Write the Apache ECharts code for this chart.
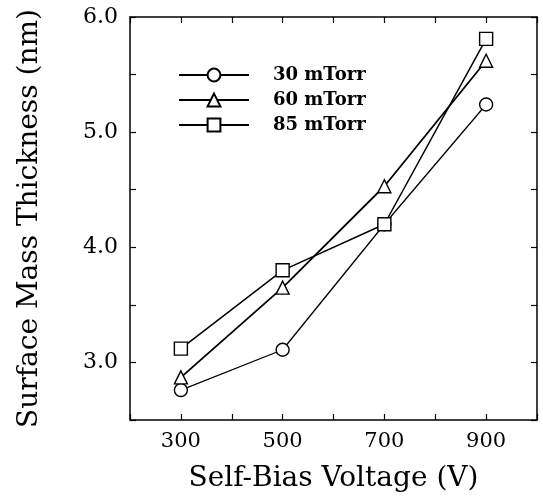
<!DOCTYPE html>
<html>
<head>
<meta charset="utf-8">
<script src="https://cdn.jsdelivr.net/npm/echarts@6/dist/echarts.min.js"></script>
<style>
  html, body { margin: 0; padding: 0; background: #fff; }
  #main { width: 543px; height: 502px; }
</style>
</head>
<body>
<div id="main"></div>
<script>
// self-bias voltage (V)
const voltage = [300, 500, 700, 900]
// surface mass thickness (nm) per pressure
const p30 = [2.76, 3.11, 4.20, 5.24]
const p60 = [2.87, 3.65, 4.53, 5.62]
const p85 = [3.12, 3.80, 4.20, 5.81]
const seriesNames = ['30 mTorr', '60 mTorr', '85 mTorr']
const xLabels = [300, 500, 700, 900]
const yLabels = [3, 4, 5, 6]

const font = 'DejaVu Serif'

function pairs(ys) {
  return voltage.map((v, i) => [v, ys[i]])
}

let chartDom = document.getElementById('main')
let myChart = echarts.init(chartDom)

const axisLine = { show: true, lineStyle: { color: '#000', width: 1.5 } }
const tick = { show: true, inside: true, length: 6, lineStyle: { color: '#000', width: 1.2 } }

function line(name, data, symbol, width) {
  return {
    name: name,
    type: 'line',
    data: pairs(data),
    symbol: symbol,
    symbolSize: 13,
    showAllSymbol: true,
    lineStyle: { color: '#000', width: width },
    itemStyle: { color: '#fff', borderColor: '#000', borderWidth: 1.4 },
    emphasis: { disabled: true },
    z: 3
  }
}

let option = {
  backgroundColor: '#fff',
  animation: false,
  grid: { left: 130, right: 6, top: 17, bottom: 82 },
  legend: {
    orient: 'vertical',
    left: 178,
    top: 66,
    padding: 0,
    itemWidth: 70,
    itemHeight: 16,
    itemGap: 7,
    data: seriesNames,
    textStyle: {
      fontFamily: font,
      fontSize: 18,
      fontWeight: 'bold',
      color: '#000',
      lineHeight: 18,
      padding: [0, 0, 0, 19]
    }
  },
  xAxis: [
    {
      type: 'value',
      min: 200,
      max: 1000,
      interval: 100,
      name: 'Self-Bias Voltage (V)',
      nameLocation: 'middle',
      nameGap: 45,
      nameTextStyle: { fontFamily: font, fontSize: 28, color: '#000' },
      axisLine: axisLine,
      axisTick: tick,
      splitLine: { show: false },
      axisLabel: {
        fontFamily: font,
        fontSize: 21,
        color: '#000',
        margin: 11,
        formatter: v => (xLabels.includes(v) ? String(v) : '')
      }
    },
    {
      type: 'value',
      position: 'top',
      min: 200,
      max: 1000,
      interval: 100,
      axisLine: axisLine,
      axisTick: tick,
      axisLabel: { show: false },
      splitLine: { show: false }
    }
  ],
  yAxis: [
    {
      type: 'value',
      min: 2.5,
      max: 6,
      interval: 0.5,
      name: 'Surface Mass Thickness (nm)',
      nameLocation: 'middle',
      nameGap: 86,
      nameTextStyle: { fontFamily: font, fontSize: 28, color: '#000' },
      axisLine: axisLine,
      axisTick: tick,
      splitLine: { show: false },
      axisLabel: {
        fontFamily: font,
        fontSize: 22,
        color: '#000',
        margin: 12,
        formatter: v => (yLabels.includes(v) ? v.toFixed(1) : '')
      }
    },
    {
      type: 'value',
      position: 'right',
      min: 2.5,
      max: 6,
      interval: 0.5,
      axisLine: axisLine,
      axisTick: tick,
      axisLabel: { show: false },
      splitLine: { show: false }
    }
  ],
  series: [
    line(seriesNames[0], p30, 'circle', 1.3),
    line(seriesNames[1], p60, 'triangle', 1.8),
    line(seriesNames[2], p85, 'rect', 1.5)
  ]
}

option && myChart.setOption(option)
</script>
</body>
</html>
